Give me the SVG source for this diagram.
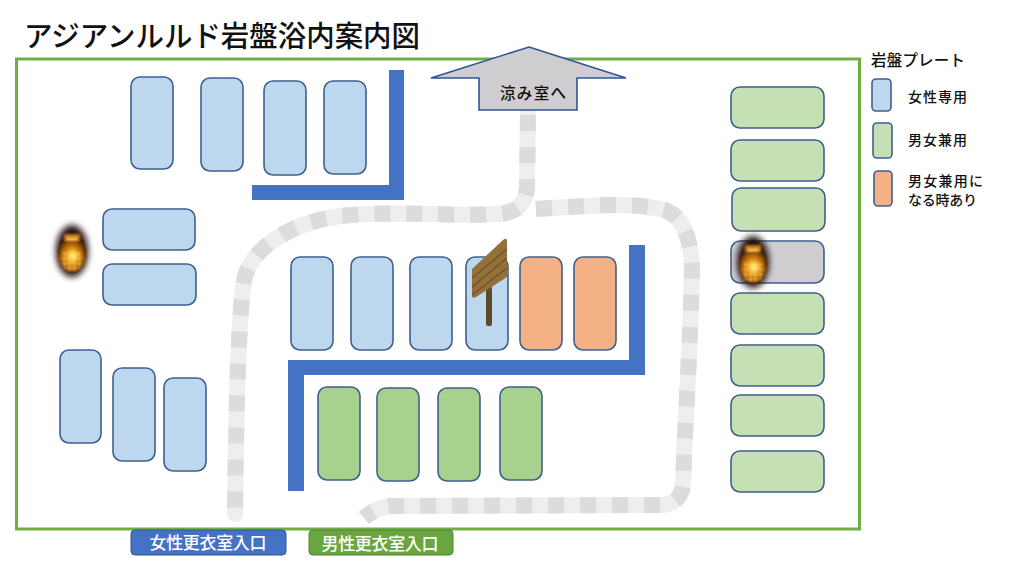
<svg xmlns="http://www.w3.org/2000/svg" width="1024" height="576" viewBox="0 0 1024 576">
<style>
text{font-family:"Noto Sans CJK JP","Noto Sans",sans-serif;fill:#111;font-weight:500}
.p rect,rect.p{stroke:#3f5f8f;stroke-width:1.6}
.b{fill:#bdd7ee}.g{fill:#a9d18e}.lg{fill:#c5e0b4}.o{fill:#f4b183}.y{fill:#cfcdd0}
.w{fill:#4472c4}
.base{fill:none;stroke:#eeeeee;stroke-width:16}
.dash{fill:none;stroke:#dcdcdc;stroke-width:16;stroke-dasharray:16 16}
.lab{font-size:14px}
.ent{font-size:17px;fill:#fff;text-anchor:middle}
</style>
<defs>
<radialGradient id="body" cx="50%" cy="58%" r="55%">
<stop offset="0" stop-color="#ffe27a"/>
<stop offset=".3" stop-color="#efa51c"/>
<stop offset=".7" stop-color="#a85a08"/>
<stop offset="1" stop-color="#3a1b04"/>
</radialGradient>
<radialGradient id="core">
<stop offset="0" stop-color="#fff3a8"/>
<stop offset=".5" stop-color="#ffd24a" stop-opacity=".8"/>
<stop offset="1" stop-color="#f0a020" stop-opacity="0"/>
</radialGradient>
<pattern id="mesh" width="5" height="5" patternUnits="userSpaceOnUse">
<circle cx="2.500" cy="2.500" r="1.300" fill="#ffcf55"/>
</pattern>
<filter id="soft" x="-40%" y="-40%" width="180%" height="180%"><feGaussianBlur stdDeviation="3"/></filter>
<filter id="soft2" x="-20%" y="-20%" width="140%" height="140%"><feGaussianBlur stdDeviation=".8"/></filter>
<g id="lamp">
<ellipse cx="0" cy="0" rx="16" ry="26" fill="#241008" filter="url(#soft)"/>
<g filter="url(#soft2)">
<ellipse cx="0" cy="3" rx="14" ry="18" fill="url(#body)"/>
<rect x="-8" y="-17" width="16" height="7" rx="2" fill="#c97a12"/>
<rect x="-5" y="-13" width="10" height="2" fill="#ffd060"/>
<ellipse cx="0" cy="9" rx="12" ry="11" fill="url(#mesh)"/>
<ellipse cx="1" cy="5" rx="8" ry="8" fill="url(#core)"/>
</g>
</g>
</defs>
<text id="title" x="24" y="47" font-size="29" textLength="396" lengthAdjust="spacingAndGlyphs">アジアンルルド岩盤浴内案内図</text>
<rect id="frame" x="16.500" y="59" width="843" height="470" fill="#fff" stroke="#70ad47" stroke-width="3"/>
<g id="connectors">
<path class="base" d="M528 115L527 185Q527 211 500 214C440 217 400 210 340 216C295 222 252 245 244 280C238 320 236 420 235 514" stroke-linecap="round"/>
<path class="dash" d="M528 115L527 185Q527 211 500 214C440 217 400 210 340 216C295 222 252 245 244 280C238 320 236 420 235 514"/>
<path class="base" d="M536 209C590 206 630 201 665 210C685 218 690 240 692 265C691 340 685 420 683 485Q680 505 660 505L392 506Q378 506 364 518"/>
<path class="dash" d="M536 209C590 206 630 201 665 210C685 218 690 240 692 265C691 340 685 420 683 485Q680 505 660 505L392 506Q378 506 364 518"/>
</g>
<g id="walls" class="w">
<path d="M389 70H404V200H252V185H389Z"/>
<path d="M629 245H645V375H304V491H288V360H629Z"/>
</g>
<g id="plates-top" class="p">
<rect class="b" x="131" y="77" width="42" height="92" rx="9"/>
<rect class="b" x="201" y="78" width="42" height="93" rx="9"/>
<rect class="b" x="264" y="81" width="42" height="94" rx="9"/>
<rect class="b" x="324" y="81" width="42" height="93" rx="9"/>
</g>
<g id="plates-left" class="p">
<rect class="b" x="103" y="209" width="92" height="41" rx="9"/>
<rect class="b" x="103" y="264" width="93" height="41" rx="9"/>
<rect class="b" x="60" y="350" width="41" height="93" rx="9"/>
<rect class="b" x="113" y="368" width="42" height="93" rx="9"/>
<rect class="b" x="164" y="378" width="42" height="93" rx="9"/>
</g>
<g id="plates-middle" class="p">
<rect class="b" x="291" y="257" width="42" height="93" rx="9"/>
<rect class="b" x="351" y="257" width="42" height="93" rx="9"/>
<rect class="b" x="410" y="257" width="42" height="93" rx="9"/>
<rect class="b" x="466" y="257" width="42" height="93" rx="9"/>
<rect class="o" x="520" y="257" width="42" height="93" rx="9"/>
<rect class="o" x="574" y="257" width="42" height="93" rx="9"/>
</g>
<g id="plates-green" class="p">
<rect class="g" x="318" y="387" width="42" height="93" rx="9"/>
<rect class="g" x="377" y="388" width="42" height="93" rx="9"/>
<rect class="g" x="438" y="388" width="42" height="93" rx="9"/>
<rect class="g" x="500" y="387" width="42" height="93" rx="9"/>
</g>
<g id="plates-right" class="p">
<rect class="lg" x="731" y="87" width="93" height="41" rx="9"/>
<rect class="lg" x="731" y="140" width="93" height="41" rx="9"/>
<rect class="lg" x="732" y="188" width="93" height="43" rx="9"/>
<rect class="y" x="731" y="241" width="93" height="42" rx="9"/>
<rect class="lg" x="731" y="293" width="93" height="41" rx="9"/>
<rect class="lg" x="731" y="345" width="93" height="41" rx="9"/>
<rect class="lg" x="731" y="395" width="93" height="41" rx="9"/>
<rect class="lg" x="731" y="451" width="93" height="41" rx="9"/>
</g>
<g id="sign">
<rect x="486" y="286" width="6" height="40" rx="2" fill="#5d4a2a"/>
<path d="M472 269L503 240Q507 237 507 241V277L476 297Q472 299 472 296Z" fill="#94713a"/>
<path d="M472 278L507 249M472 287L507 258M472 295L507 268" stroke="#6d5026" stroke-width="1.200" fill="none"/>
</g>
<use id="lamp-left" href="#lamp" x="72" y="251"/>
<use id="lamp-right" href="#lamp" x="753" y="262"/>
<g id="cool-room">
<polygon points="529,47 626,78 577,78 577,110 479,110 479,78 431,78" fill="#cfcdd0" stroke="#2f5597" stroke-width="1.600"/>
<text x="533" y="99" font-size="15.500" text-anchor="middle" textLength="66">涼み室へ</text>
</g>
<g id="entrance-f">
<rect x="131" y="530" width="155" height="25" rx="4" fill="#4472c4" stroke="#2f5597"/>
<text class="ent" x="208" y="549" textLength="117">女性更衣室入口</text>
</g>
<g id="entrance-m">
<rect x="309" y="530" width="144" height="25" rx="4" fill="#6aa63f" stroke="#548235"/>
<text class="ent" x="380" y="550" textLength="117">男性更衣室入口</text>
</g>
<g id="legend">
<text x="871" y="66" font-size="15.500" textLength="94">岩盤プレート</text>
<rect class="p b" x="872" y="79" width="19" height="32" rx="4"/>
<text class="lab" x="908" y="102" textLength="59">女性専用</text>
<rect class="p lg" x="873" y="123" width="19" height="35" rx="4"/>
<text class="lab" x="908" y="145" textLength="59">男女兼用</text>
<rect class="p o" x="874" y="171" width="18" height="35" rx="4"/>
<text class="lab" x="908" y="186" textLength="75">男女兼用に</text>
<text class="lab" x="908" y="205" textLength="69">なる時あり</text>
</g>
</svg>
